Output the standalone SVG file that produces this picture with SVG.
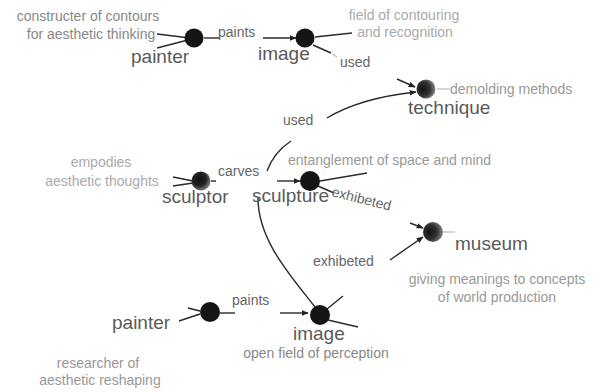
<svg xmlns="http://www.w3.org/2000/svg" width="600" height="392" viewBox="0 0 600 392">
<style>
text{font-family:"Liberation Sans",Arial,sans-serif}
.node{font-size:19px;fill:#5a5a5a}
.lbl{font-size:14px;fill:#666}
.desc{font-size:14px;fill:#999}
.desc2{font-size:14px;fill:#aaa}
.mid{text-anchor:middle}
.e{stroke:#2a2a2a;stroke-width:1.4;fill:none}
.f{stroke:#bbb;stroke-width:1.2;fill:none}
.dot{fill:#151515}
</style>
<defs>
<marker id="ar" viewBox="0 0 10 10" refX="9" refY="5" markerWidth="7" markerHeight="7" orient="auto" markerUnits="userSpaceOnUse">
<path d="M0,1 L10,5 L0,9 z" fill="#222"/>
</marker>
<radialGradient id="g1" cx="0.4" cy="0.4" r="0.6">
<stop offset="0" stop-color="#111"/><stop offset="0.6" stop-color="#222"/><stop offset="1" stop-color="#777"/>
</radialGradient>
<radialGradient id="g2" cx="0.35" cy="0.5" r="0.7" fx="0.3" fy="0.5">
<stop offset="0" stop-color="#111"/><stop offset="0.55" stop-color="#333"/><stop offset="1" stop-color="#999"/>
</radialGradient>
</defs>
<rect width="600" height="392" fill="#fff"/>

<g id="connectors">
<path class="e" d="M157,34 L190,38 M157,48 L188,40"/>
<path class="e" d="M204,38 L220,38"/>
<path class="e" d="M263,38 L296,38" marker-end="url(#ar)"/>
<path class="e" d="M315,37 L352,33"/>
<path class="e" d="M313,45 L331,53"/>
<path class="f" d="M332,54 L337,57"/>
<path class="e" d="M397,79 L415,87" marker-end="url(#ar)"/>
<path class="e" d="M327,118 Q360,98 416,92" marker-end="url(#ar)"/>
<path class="f" d="M437,89 L450,89"/>
<path class="e" d="M267,171 Q274,152 291,141"/>
<path class="e" d="M173,177 L193,181 M173,186 L193,183"/>
<path class="e" d="M211,181 L216,181"/>
<path class="e" d="M277,181 L300,181" marker-end="url(#ar)"/>
<path class="e" d="M320,181 L367,173"/>
<path class="e" d="M318,186 L334,193"/>
<path class="e" d="M258,198 C258,240 290,275 315,307"/>
<path class="e" d="M410,223 L423,228" marker-end="url(#ar)"/>
<path class="e" d="M390,260 L423,237" marker-end="url(#ar)"/>
<path class="f" d="M443,232 L455,232"/>
<path class="e" d="M179,321 L200,314 M188,308 L200,311"/>
<path class="e" d="M220,313 L235,313"/>
<path class="e" d="M280,313 L308,313" marker-end="url(#ar)"/>
<path class="e" d="M327,309 L343,296"/>
<path class="e" d="M328,320 L358,327"/>
</g>

<g id="painter1">
<circle class="dot" cx="194" cy="38" r="9.5"/>
<text class="node" x="131" y="63">painter</text>
<text class="desc mid" x="88" y="21" style="fill:#888">constructer of contours</text>
<text class="desc mid" x="91" y="39" style="fill:#888">for aesthetic thinking</text>
</g>
<text id="lbl-paints1" class="lbl" x="218" y="37">paints</text>

<g id="image1">
<circle class="dot" cx="305" cy="38" r="9.5"/>
<text class="node" x="258" y="60">image</text>
<text class="desc2 mid" x="404" y="20">field of contouring</text>
<text class="desc2 mid" x="405" y="37">and recognition</text>
</g>
<text id="lbl-used1" class="lbl" x="340" y="67">used</text>

<g id="technique">
<circle cx="426" cy="89" r="9.5" fill="url(#g2)"/>
<text class="node" x="408" y="114">technique</text>
<text class="desc" x="450" y="94">demolding methods</text>
</g>
<text id="lbl-used2" class="lbl" x="283" y="125">used</text>

<g id="sculptor">
<circle cx="201" cy="181" r="9.5" fill="url(#g1)"/>
<text class="node" x="162" y="203">sculptor</text>
<text class="desc2 mid" x="101" y="167">empodies</text>
<text class="desc2 mid" x="102" y="186">aesthetic thoughts</text>
</g>
<text id="lbl-carves" class="lbl" x="218" y="176">carves</text>

<g id="sculpture">
<circle class="dot" cx="310" cy="181" r="10"/>
<text class="node" x="252" y="202">sculpture</text>
<text class="desc" x="288" y="165">entanglement of space and mind</text>
</g>
<text id="lbl-exh1" class="lbl" x="331" y="196" transform="rotate(14 331 196)">exhibeted</text>

<g id="museum">
<circle cx="433" cy="232" r="10" fill="url(#g2)"/>
<text class="node" x="455" y="250">museum</text>
<text class="desc mid" x="497" y="284">giving meanings to concepts</text>
<text class="desc mid" x="497" y="302">of world production</text>
</g>
<text id="lbl-exh2" class="lbl" x="313" y="266">exhibeted</text>

<g id="painter2">
<circle class="dot" cx="210" cy="312" r="10"/>
<text class="node" x="112" y="329">painter</text>
<text class="desc mid" x="98" y="368">researcher of</text>
<text class="desc mid" x="100" y="385">aesthetic reshaping</text>
</g>
<text id="lbl-paints2" class="lbl" x="232" y="305">paints</text>

<g id="image2">
<circle class="dot" cx="320" cy="315" r="10"/>
<text class="node" x="293" y="340">image</text>
<text class="desc mid" x="316" y="358" style="fill:#888">open field of perception</text>
</g>
</svg>
